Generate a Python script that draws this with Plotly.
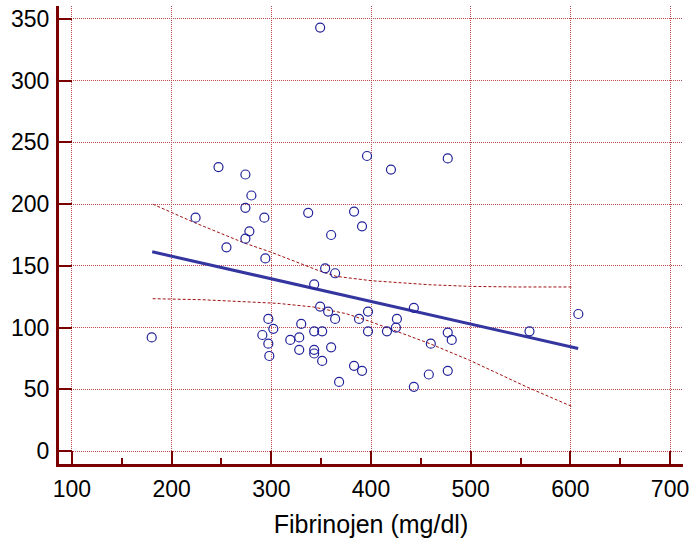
import plotly.graph_objects as go

# Fibrinojen (mg/dl) vs measured value, one circle per patient
fibrinojen = [247, 274, 396, 420, 280, 274, 224, 293, 337, 383,
              391, 278, 274, 360, 255, 294, 354, 364, 343, 443,
              349, 357, 397, 364, 388, 426, 425, 416, 397, 297,
              302, 330, 343, 351, 180, 291, 297, 319, 328, 298,
              328, 343, 343, 360, 351, 383, 391, 368, 443, 458,
              460, 477, 477, 481, 477, 559, 608, 349]
value = [230, 224, 239, 228, 207, 197, 189, 189, 193, 194,
         182, 178, 172, 175, 165, 156, 148, 144, 135, 116,
         117, 113, 113, 107, 107, 107, 100, 97, 97, 107,
         99, 103, 97, 97, 92, 94, 87, 90, 92, 77,
         82, 82, 79, 84, 73, 69, 65, 56, 52, 62,
         87, 237, 96, 90, 65, 97, 111, 343]

# regression line
reg_x = [180.5, 607.8]
reg_y = [161.4, 83.1]

# 95% confidence band
upper_x = [181, 223, 273, 300, 332, 347, 365, 400, 459, 499, 546, 601]
upper_y = [200, 185, 168.5, 161, 151, 146.3, 141.5, 138, 134.7, 133.4, 132.9, 132.9]
lower_x = [181, 230, 300, 308, 342, 375, 399, 422, 449, 459, 499, 556, 601]
lower_y = [123.4, 122.6, 119.9, 119.5, 116.7, 111.3, 105, 98.3, 90.2, 87, 73.5, 52, 36.3]

x_ticks = [100, 200, 300, 400, 500, 600, 700]
y_ticks = [0, 50, 100, 150, 200, 250, 300, 350]

font_family = 'Liberation Sans, Arial, sans-serif'
axis_color = '#7a0000'
grid_color = '#bb4a4a'
band_color = '#a01010'

fig = go.Figure()
fig.add_trace(go.Scatter(x=upper_x, y=upper_y, mode='lines',
                         line=dict(color=band_color, width=1, dash='3px,2px')))
fig.add_trace(go.Scatter(x=lower_x, y=lower_y, mode='lines',
                         line=dict(color=band_color, width=1, dash='3px,2px')))
fig.add_trace(go.Scatter(x=reg_x, y=reg_y, mode='lines',
                         line=dict(color='#3535a0', width=3)))
fig.add_trace(go.Scatter(x=fibrinojen, y=value, mode='markers',
                         marker=dict(symbol='circle-open', size=9, color='#22229a',
                                     line=dict(width=1.2, color='#22229a'))))

fig.update_layout(
    width=693, height=544,
    margin=dict(l=59, r=10, t=6, b=80),
    paper_bgcolor='white', plot_bgcolor='white',
    showlegend=False,
    font=dict(family=font_family, size=23, color='black'),
)
fig.update_xaxes(
    range=[87, 713], tickvals=x_ticks, ticktext=[str(v) for v in x_ticks],
    showline=True, linecolor=axis_color, linewidth=3,
    ticks='inside', ticklen=13, tickwidth=2, tickcolor=axis_color,
    minor=dict(dtick=50, tick0=0, ticks='inside', ticklen=6, tickwidth=2,
               tickcolor=axis_color, showgrid=False),
    showgrid=True, gridcolor=grid_color, gridwidth=1, griddash='1px,1px',
    zeroline=False, ticklabelstandoff=2, automargin=False,
    title=dict(text='Fibrinojen (mg/dl)', standoff=15,
               font=dict(family=font_family, size=25, color='black')),
)
fig.update_yaxes(
    range=[-10.5, 360.5], tickvals=y_ticks, ticktext=[str(v) for v in y_ticks],
    showline=True, linecolor=axis_color, linewidth=3,
    ticks='inside', ticklen=13, tickwidth=2, tickcolor=axis_color,
    showgrid=True, gridcolor=grid_color, gridwidth=1, griddash='1px,1px',
    zeroline=False, ticklabelstandoff=2, automargin=False,
)

# page body has a default 8px margin; drop it so the figure sits at the corner
fig.write_html("out.html", config={'displayModeBar': False},
               post_script="document.body.style.margin = '0';")
